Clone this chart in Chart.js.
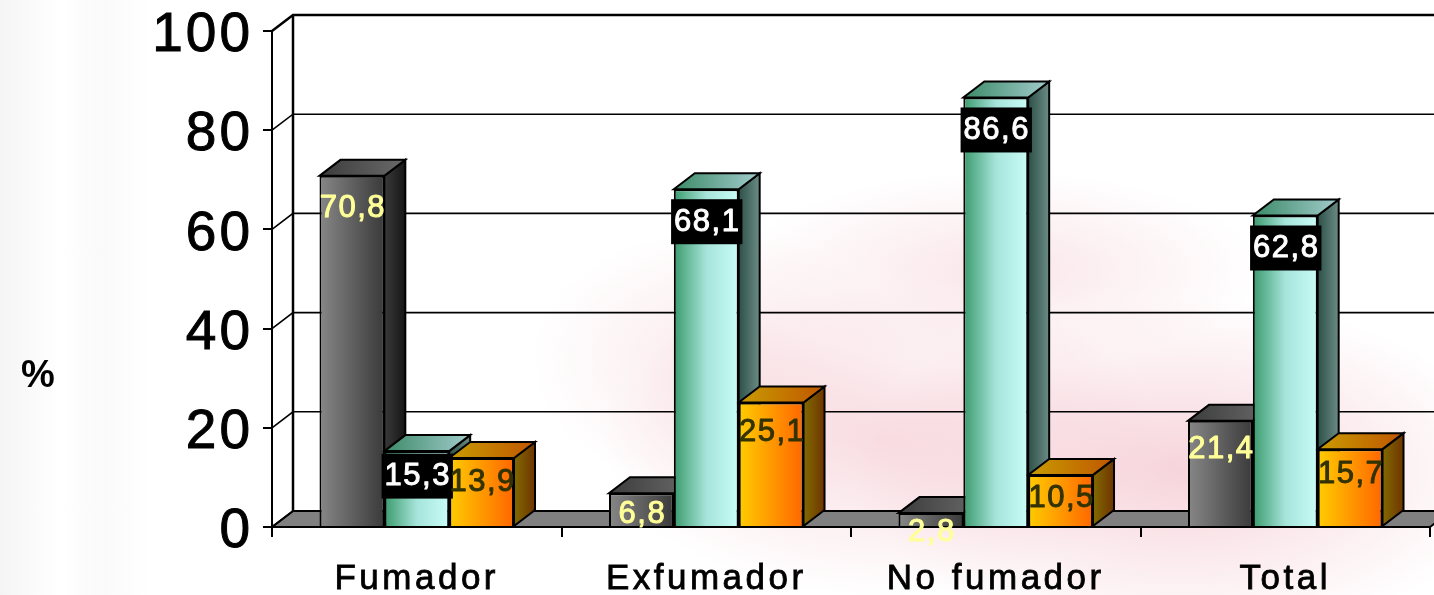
<!DOCTYPE html>
<html>
<head>
<meta charset="utf-8">
<script src="https://cdn.jsdelivr.net/npm/chart.js@4.4.1/dist/chart.umd.min.js"></script>
<style>
html,body{margin:0;padding:0;width:1434px;height:595px;overflow:hidden;}
body{
  background:
    radial-gradient(ellipse 400px 210px at 1180px 470px, rgba(238,170,184,0.50), rgba(255,255,255,0) 82%),
    radial-gradient(ellipse 340px 190px at 880px 440px, rgba(240,178,190,0.44), rgba(255,255,255,0) 82%),
    radial-gradient(ellipse 320px 120px at 1000px 270px, rgba(240,180,192,0.34), rgba(255,255,255,0) 82%),
    radial-gradient(ellipse 230px 160px at 720px 360px, rgba(240,185,195,0.32), rgba(255,255,255,0) 82%),
    linear-gradient(90deg, rgba(225,225,225,0.35) 0px, rgba(255,255,255,0) 60px, rgba(235,235,235,0.25) 100px, rgba(255,255,255,0) 150px),
    #ffffff;
}
canvas{display:block;}
</style>
</head>
<body>
<canvas id="c" width="1434" height="595"></canvas>
<script>
// ---- data ----
const categories = ['Fumador', 'Exfumador', 'No fumador', 'Total'];
const seriesGrey = [70.8, 6.8, 2.8, 21.4];
const seriesGreen = [15.3, 68.1, 86.6, 62.8];
const seriesOrange = [13.9, 25.1, 10.5, 15.7];
const yTicks = [0, 20, 40, 60, 80, 100];
const yAxisTitle = '%';

// ---- styling ----
const FONT = "'Liberation Sans', Arial, Helvetica, sans-serif";
const DX = 21, DY = -16;
const CAT_PCT = 0.672;
const styles = [
  { front: ['#878787', '#3a3a3a'], top: ['#3c3c3c', '#6a6a6a'], side: ['#3a3a3a', '#151515'], text: '#ffff99', box: null },
  { front: ['#3a9a6c', '#a6e4da', '#c8fcf8'], top: ['#3c8a68', '#a2cccc'], side: ['#2c5048', '#6c8c86'], text: '#ffffff', box: '#000000' },
  { front: ['#ffcc00', '#ff6600'], top: ['#c89c00', '#c05600'], side: ['#826a00', '#6e3400'], text: '#333300', box: null }
];

function addStops(g, stops) {
  stops.forEach((c, i) => g.addColorStop(stops.length === 1 ? 0 : i / (stops.length - 1), c));
  return g;
}

function frontGradient(c, di) {
  const chart = c.chart;
  const xs = chart.scales && chart.scales.x;
  if (!xs || c.dataIndex === undefined || !xs.width) return styles[di].front[0];
  const center = xs.getPixelForValue(c.dataIndex);
  const catW = xs.width / categories.length;
  const groupW = catW * CAT_PCT;
  const bw = groupW / 3;
  const L = center - groupW / 2 + bw * di;
  return addStops(chart.ctx.createLinearGradient(L, 0, L + bw, 0), styles[di].front);
}

const threeD = {
  id: 'threeD',
  afterUpdate(chart) {
    const xs = chart.scales.x;
    if (xs && !xs._patched) {
      const orig = xs.drawLabels;
      xs.drawLabels = function (area) {
        const ctx = this.ctx;
        ctx.save();
        ctx.letterSpacing = '3.5px';
        orig.call(this, area);
        ctx.restore();
      };
      xs._patched = true;
    }
    const ys = chart.scales.y;
    if (ys && !ys._patched) {
      const origY = ys.drawLabels;
      ys.drawLabels = function (area) {
        const ctx = this.ctx;
        ctx.save();
        ctx.letterSpacing = '3px';
        ctx.translate(3, 5);
        origY.call(this, area);
        ctx.restore();
      };
      ys._patched = true;
    }
  },
  beforeDatasetsDraw(chart) {
    const ctx = chart.ctx, ys = chart.scales.y, a = chart.chartArea;
    ctx.save();
    ctx.strokeStyle = '#000';
    ctx.lineJoin = 'miter';
    const y0 = ys.getPixelForValue(0);
    // floor
    ctx.beginPath();
    ctx.moveTo(a.left, y0);
    ctx.lineTo(a.right, y0);
    ctx.lineTo(a.right + DX, y0 + DY);
    ctx.lineTo(a.left + DX, y0 + DY);
    ctx.closePath();
    ctx.fillStyle = '#808080';
    ctx.fill();
    ctx.lineWidth = 2;
    ctx.stroke();
    // back wall grid lines
    yTicks.forEach(v => {
      const py = ys.getPixelForValue(v);
      ctx.lineWidth = v === 100 ? 2.5 : 1.6;
      ctx.beginPath();
      ctx.moveTo(a.left, py);
      ctx.lineTo(a.left + DX, py + DY);
      ctx.lineTo(chart.width + 10, py + DY);
      ctx.stroke();
    });
    ctx.lineWidth = 2.5;
    ctx.beginPath();
    ctx.moveTo(a.left + DX, ys.getPixelForValue(0) + DY);
    ctx.lineTo(a.left + DX, ys.getPixelForValue(100) + DY);
    ctx.stroke();

    // bar sides and tops
    const els = [];
    chart.data.datasets.forEach((ds, di) => {
      chart.getDatasetMeta(di).data.forEach(el => els.push({ el, di }));
    });
    els.sort((p, q) => p.el.x - q.el.x);
    ctx.lineWidth = 2;
    for (const { el, di } of els) {
      const st = styles[di];
      const L = el.x - el.width / 2, R = el.x + el.width / 2, T = el.y, B = el.base;
      ctx.beginPath();
      ctx.moveTo(R, B); ctx.lineTo(R, T); ctx.lineTo(R + DX, T + DY); ctx.lineTo(R + DX, B + DY);
      ctx.closePath();
      ctx.fillStyle = addStops(ctx.createLinearGradient(R, 0, R + DX, 0), st.side);
      ctx.fill(); ctx.stroke();
      ctx.beginPath();
      ctx.moveTo(L, T); ctx.lineTo(R, T); ctx.lineTo(R + DX, T + DY); ctx.lineTo(L + DX, T + DY);
      ctx.closePath();
      ctx.fillStyle = addStops(ctx.createLinearGradient(L, 0, R + DX, 0), st.top);
      ctx.fill(); ctx.stroke();
    }
    ctx.restore();
  },
  afterDatasetsDraw(chart) {
    const ctx = chart.ctx;
    ctx.save();
    ctx.font = '31px ' + FONT;
    ctx.letterSpacing = '1.5px';
    ctx.textAlign = 'center';
    ctx.textBaseline = 'middle';
    ctx.lineJoin = 'round';
    chart.data.datasets.forEach((ds, di) => {
      const st = styles[di];
      chart.getDatasetMeta(di).data.forEach((el, i) => {
        const v = ds.data[i];
        const txt = v.toFixed(1).replace('.', ',');
        const h = el.base - el.y;
        const cy = el.y + Math.min(32, 17 + h * 0.1);
        const cx = el.x + 1;
        if (st.box) {
          const w = ctx.measureText(txt).width;
          ctx.fillStyle = st.box;
          ctx.fillRect(cx - w / 2 - 3, cy - 22, w + 5, 45);
        }
        ctx.fillStyle = st.text;
        ctx.strokeStyle = st.text;
        ctx.lineWidth = 1;
        ctx.fillText(txt, cx, cy + 1);
        ctx.strokeText(txt, cx, cy + 1);
      });
    });
    // y axis title
    ctx.letterSpacing = '0px';
    ctx.font = 'bold 38px ' + FONT;
    ctx.fillStyle = '#000';
    ctx.fillText(yAxisTitle, 38, 377);
    ctx.restore();
  }
};

Chart.defaults.font.family = FONT;
Chart.defaults.color = '#000';

new Chart(document.getElementById('c'), {
  type: 'bar',
  data: {
    labels: categories,
    datasets: [
      { label: 'Serie 1', data: seriesGrey, backgroundColor: c => frontGradient(c, 0) },
      { label: 'Serie 2', data: seriesGreen, backgroundColor: c => frontGradient(c, 1) },
      { label: 'Serie 3', data: seriesOrange, backgroundColor: c => frontGradient(c, 2) }
    ].map(d => Object.assign(d, { borderColor: '#000', borderWidth: 2, categoryPercentage: CAT_PCT, barPercentage: 1.0 }))
  },
  options: {
    responsive: false,
    animation: false,
    devicePixelRatio: 1,
    layout: { padding: { top: 31, right: 4, left: 0, bottom: 0 } },
    plugins: { legend: { display: false }, tooltip: { enabled: false } },
    scales: {
      x: {
        offset: true,
        grid: { drawOnChartArea: false, tickLength: 10, color: '#000', lineWidth: 2, offset: true },
        border: { display: true, color: '#000', width: 2 },
        ticks: { color: '#000', font: { size: 35, family: FONT }, padding: 21, maxRotation: 0, textStrokeColor: '#000', textStrokeWidth: 0.8 },
        afterFit(s) { s.height = 68; }
      },
      y: {
        min: 0, max: 100,
        grid: { drawOnChartArea: false, tickLength: 9, color: '#000', lineWidth: 2 },
        border: { display: true, color: '#000', width: 2 },
        ticks: { stepSize: 20, color: '#000', font: { size: 55, family: FONT, lineHeight: 0.5 }, padding: 13, textStrokeColor: '#000', textStrokeWidth: 1 },
        afterFit(s) { s.width = 272; }
      }
    }
  },
  plugins: [threeD]
});
</script>
</body>
</html>
